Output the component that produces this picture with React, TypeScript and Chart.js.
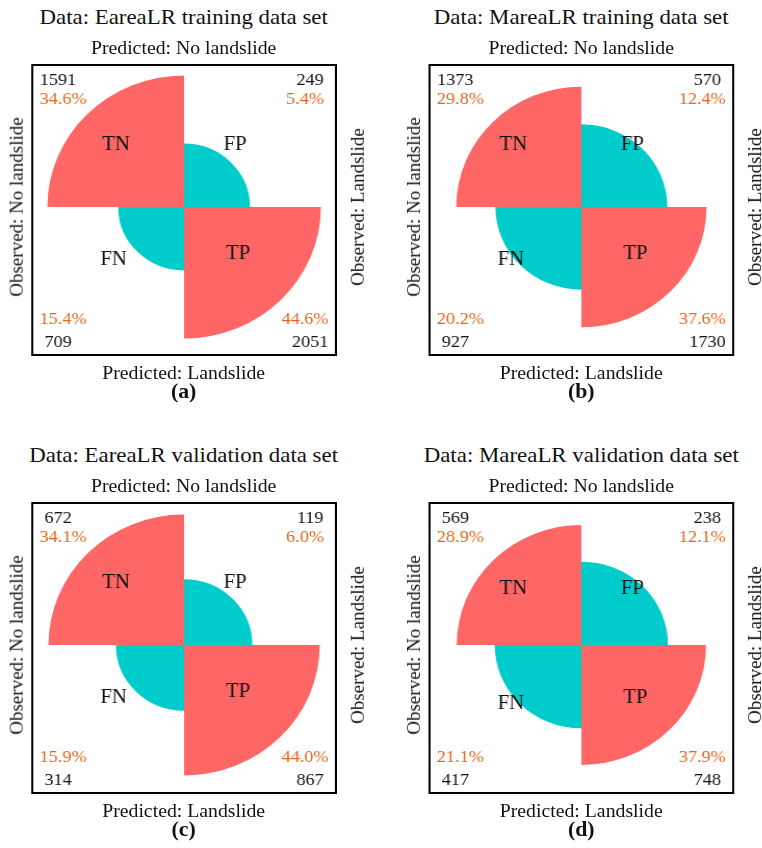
import { useEffect, useRef } from "react";
import { Chart, registerables } from "chart.js";

Chart.register(...registerables);

// Confusion-matrix counts for each panel (a)-(d)
const panelTitles = [
  "Data: EareaLR training data set",
  "Data: MareaLR training data set",
  "Data: EareaLR validation data set",
  "Data: MareaLR validation data set",
];
const panelTags = ["(a)", "(b)", "(c)", "(d)"];
const tnCounts = [1591, 1373, 672, 569];
const fpCounts = [249, 570, 119, 238];
const fnCounts = [709, 927, 314, 417];
const tpCounts = [2051, 1730, 867, 748];

// Quadrants in drawing order: clockwise from 12 o'clock
const quadrantNames = ["FP", "TP", "FN", "TN"];

const axisTop = "Predicted: No landslide";
const axisBottom = "Predicted: Landslide";
const axisLeft = "Observed: No landslide";
const axisRight = "Observed: Landslide";

const SERIF = '"Liberation Serif", "Times New Roman", Times, serif';
const STRETCH = 1.04;
const DIAG = "#FF6666";
const OFF_DIAG = "#00CCCC";
const PCT_COLOR = "#E6661E";
const INK = "#111111";

// Panel centres (page units before the horizontal stretch)
const centres = [
  { x: 176.6, y: 207.2 },
  { x: 558.9, y: 207.2 },
  { x: 176.6, y: 645.2 },
  { x: 558.9, y: 645.2 },
];
// vertical nudge of the TN/FP/FN/TP names per panel
const nameShift = [0, 0, 0, 6];

const CANVAS = 320;
const RADIUS = 146;

// Fourfold standardisation: equal row and column margins, odds ratio kept.
function fourfoldRadii(tn: number, fp: number, fn: number, tp: number) {
  const s = Math.sqrt((tn * tp) / (fp * fn));
  const u = s / (1 + s);
  const diag = Math.sqrt(u);
  const off = Math.sqrt(1 - u);
  return [off, diag, off, diag]; // FP, TP, FN, TN
}

function pct(v: number, total: number) {
  return ((v / total) * 100).toFixed(1) + "%";
}

function makeDecor(i: number) {
  const total = tnCounts[i] + fpCounts[i] + fnCounts[i] + tpCounts[i];
  return {
    id: "fourfoldDecor",
    afterDraw(chart: any) {
      const r = chart.scales.r;
      const xc = r.xCenter;
      const yc = r.yCenter;
      const ctx = chart.ctx as CanvasRenderingContext2D;
      ctx.save();
      // frame
      ctx.strokeStyle = "#000";
      ctx.lineWidth = 2;
      ctx.strokeRect(xc - 146, yc - 142, 292, 290);

      const small = 17.5;
      const put = (t: string, x: number, y: number, size: number, color: string) => {
        ctx.font = `${size}px ${SERIF}`;
        ctx.fillStyle = color;
        ctx.textAlign = "center";
        ctx.textBaseline = "alphabetic";
        ctx.fillText(t, xc + x, yc + y + size * 0.335);
      };
      const cX = 121.2;
      const pX = 116.3;
      // top-left: TN
      put(String(tnCounts[i]), -cX, -128, small, INK);
      put(pct(tnCounts[i], total), -pX, -109, small, PCT_COLOR);
      // top-right: FP
      put(String(fpCounts[i]), cX, -128, small, INK);
      put(pct(fpCounts[i], total), pX, -109, small, PCT_COLOR);
      // bottom-left: FN
      put(pct(fnCounts[i], total), -pX, 111, small, PCT_COLOR);
      put(String(fnCounts[i]), -cX, 134, small, INK);
      // bottom-right: TP
      put(pct(tpCounts[i], total), pX, 111, small, PCT_COLOR);
      put(String(tpCounts[i]), cX, 134, small, INK);

      // quadrant names
      const dy = nameShift[i];
      put("TN", -65.4, -63.3 + dy, 20, INK);
      put("FP", 49, -63.3 + dy, 20, INK);
      put("FN", -67.8, 51 + dy, 20, INK);
      put("TP", 51.9, 45.7 + dy, 20, INK);
      ctx.restore();
    },
  };
}

function Label(props: {
  text: string;
  x: number;
  y: number;
  size: number;
  bold?: boolean;
  rotate?: boolean;
}) {
  return (
    <div
      style={{
        position: "absolute",
        left: props.x,
        top: props.y,
        transform: `translate(-50%, -50%)${props.rotate ? " rotate(-90deg)" : ""}`,
        whiteSpace: "nowrap",
        lineHeight: 1,
        fontFamily: SERIF,
        fontSize: props.size,
        fontWeight: props.bold ? "bold" : "normal",
        color: INK,
      }}
    >
      {props.text}
    </div>
  );
}

function FourfoldPanel({ i }: { i: number }) {
  const ref = useRef<HTMLCanvasElement | null>(null);
  const c = centres[i];

  useEffect(() => {
    if (!ref.current) return;
    const radii = fourfoldRadii(tnCounts[i], fpCounts[i], fnCounts[i], tpCounts[i]);
    const pad = CANVAS / 2 - RADIUS;
    const chart = new Chart(ref.current, {
      type: "polarArea",
      data: {
        labels: quadrantNames,
        datasets: [
          {
            data: radii,
            backgroundColor: [OFF_DIAG, DIAG, OFF_DIAG, DIAG],
            borderWidth: 0,
          },
        ],
      },
      options: {
        responsive: false,
        animation: false,
        events: [],
        layout: { padding: pad },
        plugins: {
          legend: { display: false },
          tooltip: { enabled: false },
        },
        scales: {
          r: {
            min: 0,
            max: 1,
            ticks: { display: false },
            grid: { display: false },
            angleLines: { display: false },
            pointLabels: { display: false },
          },
        },
      },
      plugins: [makeDecor(i)],
    } as any);
    return () => chart.destroy();
  }, [i]);

  return (
    <>
      <canvas
        ref={ref}
        width={CANVAS}
        height={CANVAS}
        style={{
          position: "absolute",
          left: c.x - CANVAS / 2,
          top: c.y - CANVAS / 2,
          width: CANVAS,
          height: CANVAS,
        }}
      />
      <Label text={panelTitles[i]} x={c.x} y={c.y - 190.5} size={22} />
      <Label text={axisTop} x={c.x} y={c.y - 160.7} size={19} />
      <Label text={axisBottom} x={c.x} y={c.y + 164.8} size={19} />
      <Label text={panelTags[i]} x={c.x} y={c.y + 184} size={21} bold />
      <Label text={axisLeft} x={c.x - 162} y={c.y} size={19} rotate />
      <Label text={axisRight} x={c.x + 166} y={c.y} size={19} rotate />
    </>
  );
}

export default function App() {
  return (
    <div
      style={{
        position: "absolute",
        left: 0,
        top: 0,
        width: 762 / STRETCH,
        height: 848,
        overflow: "hidden",
        background: "#fff",
        transform: `scaleX(${STRETCH})`,
        transformOrigin: "0 0",
      }}
    >
      {[0, 1, 2, 3].map((i) => (
        <FourfoldPanel key={i} i={i} />
      ))}
    </div>
  );
}
